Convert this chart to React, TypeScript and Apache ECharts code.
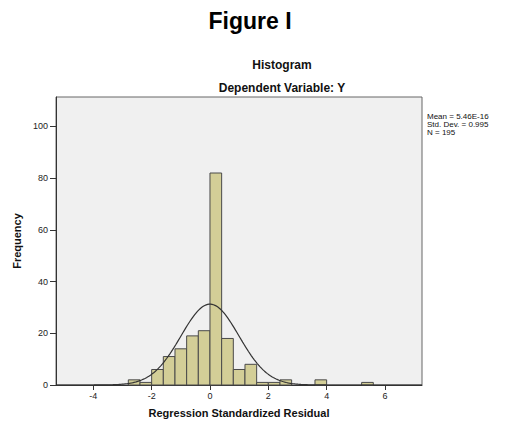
import React, { useEffect, useRef } from "react";
import * as echarts from "echarts";

// Histogram data
const BIN_WIDTH = 0.4;
const BIN_STARTS = [-2.8, -2.4, -2.0, -1.6, -1.2, -0.8, -0.4, 0, 0.4, 0.8, 1.2, 1.6, 2.0, 2.4, 3.6, 5.2];
const FREQUENCIES = [2, 1, 6, 11, 14, 19, 21, 82, 18, 6, 8, 1, 1, 2, 2, 1];

// Summary statistics shown on the chart
const MEAN = 5.46e-16;
const STD_DEV = 0.995;
const N = 195;

const X_TICKS = [-4, -2, 0, 2, 4, 6];
const X_MIN = -5.28;
const X_MAX = 7.27;
const Y_MAX = 111.4;

const FONT = 'Arial, "Liberation Sans", Helvetica, sans-serif';

function normalCurve(): number[][] {
  const pts: number[][] = [];
  const scale = N * BIN_WIDTH;
  for (let i = 0; i <= 251; i++) {
    const x = X_MIN + ((X_MAX - X_MIN) * i) / 251;
    const z = (x - MEAN) / STD_DEV;
    const y = (scale / (STD_DEV * Math.sqrt(2 * Math.PI))) * Math.exp(-0.5 * z * z);
    pts.push([x, y]);
  }
  return pts;
}

export default function App() {
  const ref = useRef<HTMLDivElement>(null);

  useEffect(() => {
    if (!ref.current) return;
    const chart = echarts.init(ref.current, null, { renderer: "svg" });
    const barData = BIN_STARTS.map((s, i) => [s, FREQUENCIES[i]]);

    chart.setOption({
      animation: false,
      backgroundColor: "#ffffff",
      grid: {
        left: 56,
        right: 83,
        top: 97,
        bottom: 36,
        show: true,
        backgroundColor: "#f0f0f0",
        borderColor: "#666666",
        borderWidth: 1,
      },
      xAxis: {
        type: "value",
        min: X_MIN,
        max: X_MAX,
        name: "Regression Standardized Residual",
        nameLocation: "middle",
        nameGap: 22,
        nameTextStyle: { fontFamily: FONT, fontWeight: "bold", fontSize: 11, color: "#111", verticalAlign: "top" },
        axisLine: { show: true, onZero: false, lineStyle: { color: "#333", width: 1 } },
        axisTick: { show: true, length: 5, customValues: X_TICKS, lineStyle: { color: "#333" } },
        axisLabel: { customValues: X_TICKS, margin: 6, fontFamily: FONT, fontSize: 9, color: "#222" },
        splitLine: { show: false },
      },
      yAxis: {
        type: "value",
        min: 0,
        max: Y_MAX,
        interval: 20,
        name: "Frequency",
        nameLocation: "middle",
        nameGap: 33,
        nameTextStyle: { fontFamily: FONT, fontWeight: "bold", fontSize: 11, color: "#111" },
        axisLine: { show: true, onZero: false, lineStyle: { color: "#333", width: 1 } },
        axisTick: { show: true, length: 6, lineStyle: { color: "#333" } },
        axisLabel: { margin: 8, fontFamily: FONT, fontSize: 9, color: "#222", showMaxLabel: false },
        splitLine: { show: false },
      },
      series: [
        {
          type: "custom",
          data: barData,
          encode: { x: 0, y: 1 },
          renderItem: (params: any, api: any) => {
            const start = api.value(0);
            const f = api.value(1);
            const p0 = api.coord([start, f]);
            const p1 = api.coord([start + BIN_WIDTH, 0]);
            return {
              type: "rect",
              shape: { x: p0[0], y: p0[1], width: p1[0] - p0[0], height: p1[1] - p0[1] },
              style: { fill: "#d3ce97", stroke: "#4a4a4a", lineWidth: 1 },
            };
          },
        },
        {
          type: "line",
          data: normalCurve(),
          showSymbol: false,
          symbol: "none",
          lineStyle: { color: "#333", width: 1.2 },
          z: 5,
        },
      ],
      graphic: [
        {
          type: "text",
          x: 250,
          y: 21,
          style: { text: "Figure I", font: `bold 23px ${FONT}`, fill: "#000", textAlign: "center", textVerticalAlign: "middle" },
        },
        {
          type: "text",
          x: 282,
          y: 65,
          style: { text: "Histogram", font: `bold 12px ${FONT}`, fill: "#111", textAlign: "center", textVerticalAlign: "middle" },
        },
        {
          type: "text",
          x: 282,
          y: 88,
          style: { text: "Dependent Variable: Y", font: `bold 12px ${FONT}`, fill: "#111", textAlign: "center", textVerticalAlign: "middle" },
        },
        {
          type: "text",
          x: 427,
          y: 112,
          style: {
            text: `Mean = 5.46E-16\nStd. Dev. = ${STD_DEV}\nN = ${N}`,
            font: `8px ${FONT}`,
            lineHeight: 8,
            fill: "#111",
            textAlign: "left",
            textVerticalAlign: "top",
          },
        },
      ],
    });
    return () => chart.dispose();
  }, []);

  return (
    <div
      ref={ref}
      style={{ position: "fixed", left: 0, top: 0, width: 505, height: 423, background: "#fff" }}
    />
  );
}
